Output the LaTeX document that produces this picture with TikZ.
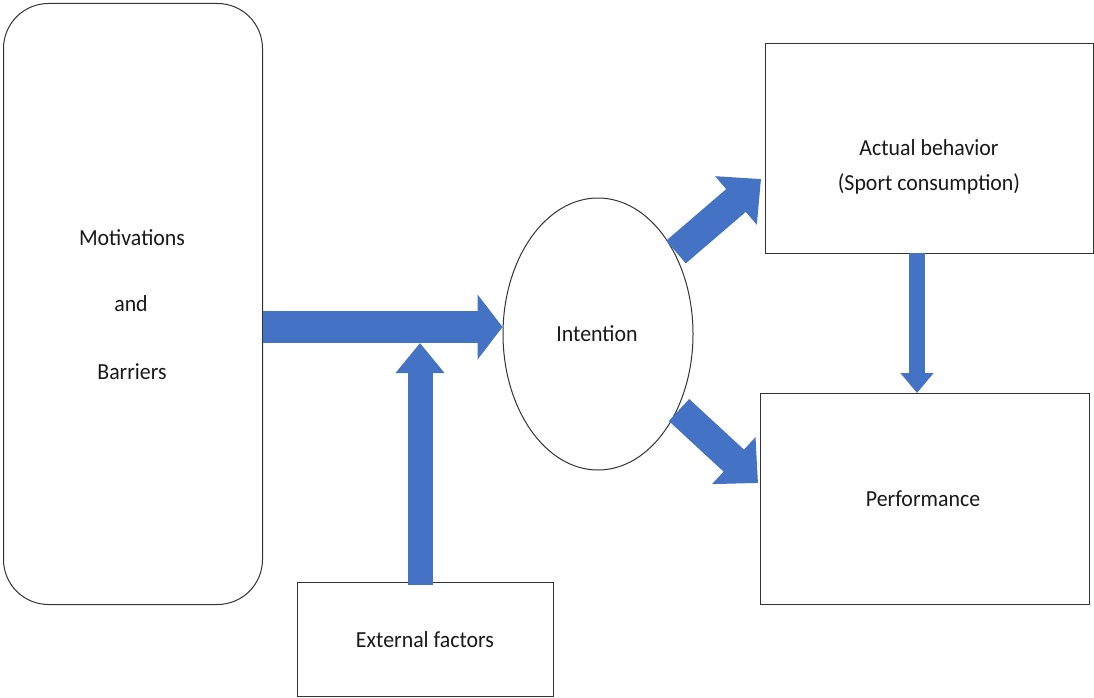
\documentclass[tikz,border=0pt]{standalone}
\usepackage{fontspec}
\setmainfont{Carlito}[FakeStretch=0.95]
\usetikzlibrary{arrows.meta,shapes.geometric}
\definecolor{arrowblue}{HTML}{4472C4}
\tikzset{
  box/.style={draw=black!80, line width=1pt, fill=white},
  lbl/.style={font=\fontsize{23}{27}\selectfont, text=black!90},
  bigarrow/.style={draw=arrowblue, line cap=butt},
}
\begin{document}
\begin{tikzpicture}[x=1pt,y=-1pt]
\useasboundingbox (0,0) rectangle (1094,698);
% nodes
\node[box, rounded corners=45pt, minimum width=259pt, minimum height=601pt, anchor=north west] (mot) at (3,3) {};
\node[lbl] (t1) at (132,238) {Motivations};
\node[lbl] (t2) at (131,304) {and};
\node[lbl] (t3) at (132,372) {Barriers};
\node[box, ellipse, minimum width=190pt, minimum height=272pt] (int) at (598,334) {};
\node[lbl] (ti) at (597,334) {Intention};
\node[box, minimum width=328pt, minimum height=210pt, anchor=north west] (act) at (765,43) {};
\node[lbl] (ta1) at (929,148) {Actual behavior};
\node[lbl] (ta2) at (929,184) {(Sport consumption)};
\node[box, minimum width=329pt, minimum height=211pt, anchor=north west] (perf) at (760,393) {};
\node[lbl] (tp) at (923,499) {Performance};
\node[box, minimum width=256pt, minimum height=114pt, anchor=north west] (ext) at (297,582) {};
\node[lbl] (te) at (425,640) {External factors};
% arrow end points
\coordinate (h1) at (mot.east |- 0,327);
\coordinate (h2) at (int.west |- h1);
\coordinate (v1) at (420,585);
\coordinate (v2) at (420,343);
\coordinate (d1s) at (676,252);
\coordinate (d1e) at (761,179);
\coordinate (d2s) at (679,410);
\coordinate (d2e) at (758,483);
\coordinate (s1) at (917,253);
\coordinate (s2) at (917,393);
% arrows
\draw[bigarrow, line width=32pt, -{Triangle[length=25pt,width=64pt]}] (h1) -- (h2);
\draw[bigarrow, line width=25pt, -{Triangle[length=30pt,width=47pt]}] (v1) -- (v2);
\draw[bigarrow, line width=30pt, -{Triangle[length=33pt,width=62pt]}] (d1s) -- (d1e);
\draw[bigarrow, line width=30pt, -{Triangle[length=33pt,width=62pt]}] (d2s) -- (d2e);
\draw[bigarrow, line width=16pt, -{Triangle[length=20pt,width=32pt]}] (s1) -- (s2);
\end{tikzpicture}
\end{document}
